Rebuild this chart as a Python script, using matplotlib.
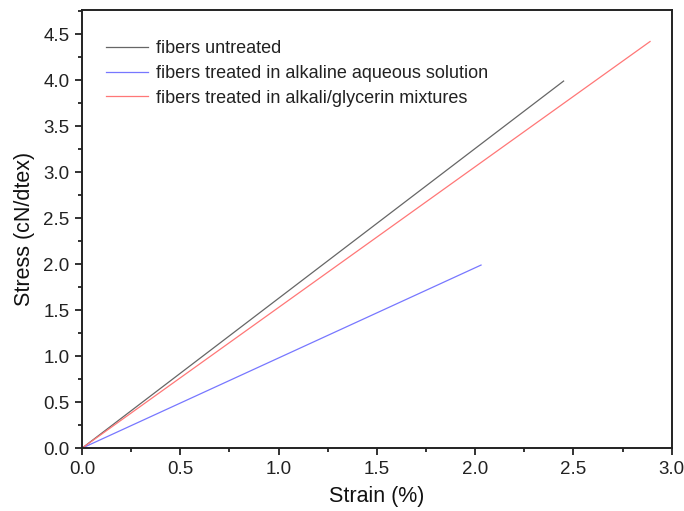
import matplotlib.pyplot as plt
from matplotlib.ticker import MultipleLocator

plt.rcParams['font.family'] = ['Liberation Sans', 'DejaVu Sans']

# strain (%) and stress (cN/dtex) endpoints of each curve
untreated_x = [0.0, 2.45]
untreated_y = [0.0, 3.99]
alkaline_x = [0.0, 2.03]
alkaline_y = [0.0, 1.99]
glycerin_x = [0.0, 2.89]
glycerin_y = [0.0, 4.42]

labels = ['fibers untreated',
          'fibers treated in alkaline aqueous solution',
          'fibers treated in alkali/glycerin mixtures']

fig = plt.figure(figsize=(6.84, 5.11), dpi=100)
ax = fig.add_axes([0.12, 0.123, 0.862, 0.857])

ax.plot(untreated_x, untreated_y, color='#666666', lw=0.9, label=labels[0])
ax.plot(alkaline_x, alkaline_y, color='#7777ff', lw=0.9, label=labels[1])
ax.plot(glycerin_x, glycerin_y, color='#ff7777', lw=0.9, label=labels[2])

ax.set_xlim(0, 3.0)
ax.set_ylim(0, 4.76)
ax.xaxis.set_major_locator(MultipleLocator(0.5))
ax.xaxis.set_minor_locator(MultipleLocator(0.25))
ax.yaxis.set_major_locator(MultipleLocator(0.5))
ax.yaxis.set_minor_locator(MultipleLocator(0.25))
ax.tick_params(which='major', direction='out', length=5, width=1.3,
               labelsize=13.5, pad=4, color='#222222', labelcolor='#222222')
ax.tick_params(which='minor', direction='out', length=3, width=1.3, color='#222222')
for s in ax.spines.values():
    s.set_linewidth(1.4)
    s.set_color('#222222')

ax.set_xlabel('Strain (%)', fontsize=15.5, labelpad=6, color='#111111')
ax.set_ylabel('Stress (cN/dtex)', fontsize=15.5, labelpad=6, color='#111111')

ax.legend(loc='upper left', frameon=False, fontsize=13, handlelength=2.3,
          handletextpad=0.45, labelspacing=0.42, bbox_to_anchor=(0.013, 0.968),
          labelcolor='#222222')

fig.savefig('out.png', dpi=100)
